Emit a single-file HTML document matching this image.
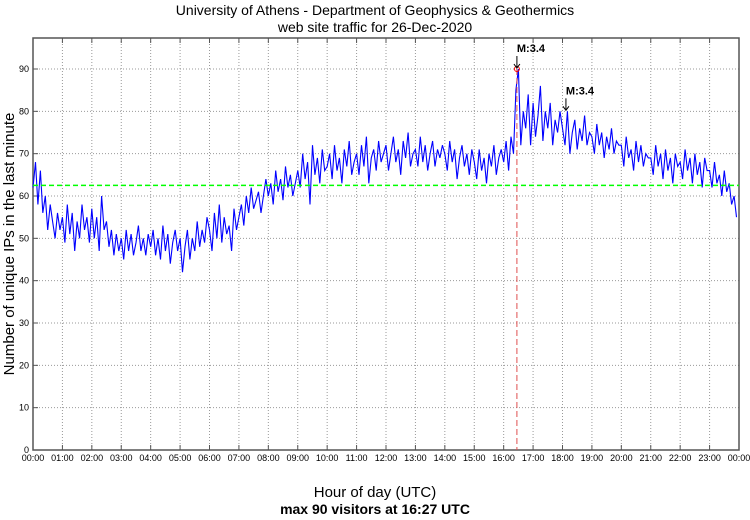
<!DOCTYPE html>
<html><head><meta charset="utf-8"><style>
body{margin:0;background:#fff;}
svg text{font-family:"Liberation Sans",sans-serif;}
</style></head><body>
<svg id="c" width="750" height="515">
<text x="375" y="15" text-anchor="middle" font-size="14">University of Athens - Department of Geophysics &amp; Geothermics</text>
<text x="375" y="32" text-anchor="middle" font-size="14">web site traffic for 26-Dec-2020</text>
<text x="375" y="497" text-anchor="middle" font-size="15">Hour of day (UTC)</text>
<text x="375" y="514" text-anchor="middle" font-size="14" font-weight="bold">max 90 visitors at 16:27 UTC</text>
<text transform="translate(14,244) rotate(-90)" text-anchor="middle" font-size="15">Number of unique IPs in the last minute</text>
<g id="g"></g>
</svg>
<script>
const yTicks=[0,10,20,30,40,50,60,70,80,90];
const xTickLabels=["00:00","01:00","02:00","03:00","04:00","05:00","06:00","07:00","08:00","09:00","10:00","11:00","12:00","13:00","14:00","15:00","16:00","17:00","18:00","19:00","20:00","21:00","22:00","23:00","00:00"];
const visitors=[
62,68,58,66,56,60,52,58,54,50,56,52,
55,49,58,51,56,47,54,50,58,52,55,49,
57,50,55,47,60,52,54,48,52,46,51,47,
50,45,52,47,51,46,49,53,47,50,46,51,
48,52,46,50,45,53,47,51,44,49,52,47,
50,42,48,52,45,50,47,54,48,52,49,55,
52,47,56,50,58,49,55,51,53,47,57,52,
55,58,53,60,56,62,57,59,61,56,60,64,
60,63,58,66,61,64,59,67,62,65,60,63,
66,62,70,64,68,58,72,65,69,63,71,66,
67,70,64,72,66,69,63,71,67,73,65,68,
70,65,72,67,74,63,69,71,66,73,68,70,
72,66,70,74,68,71,65,73,69,75,67,70,
71,67,74,68,72,66,70,73,67,71,69,72,
70,66,73,68,71,64,69,72,67,70,65,71,
68,64,71,66,69,63,70,67,72,65,69,71,
68,73,66,74,70,85,90,72,80,76,84,72,
82,74,79,86,73,80,76,82,72,78,75,80,
76,72,80,70,75,78,71,76,73,79,72,75,
74,70,77,72,75,69,74,71,76,70,73,72,
72,67,74,69,71,66,73,68,72,67,70,69,
69,65,72,67,70,64,71,66,69,63,70,67,
68,64,71,66,69,63,70,65,68,62,69,66,
66,62,68,63,65,60,66,61,63,58,60,55];
const stepMinutes=5;
const meanValue=62.5;
const maxTime=16*60+27, maxValue=90;
const quakes=[{t:16*60+27,v:90,label:"M:3.4"},{t:18*60+7,v:80,label:"M:3.4"}];
const L=33,R=739,T=38,B=450;
const xs=m=>L+(R-L)*m/1440;
const ys=v=>B-(B-69)*v/90;
const g=document.getElementById('g');
const NS="http://www.w3.org/2000/svg";
function mk(t,a){const e=document.createElementNS(NS,t);for(const k in a)e.setAttribute(k,a[k]);g.appendChild(e);return e;}
yTicks.forEach(v=>{
 if(v>0){const l=mk('line',{x1:L,x2:R,y1:ys(v),y2:ys(v),stroke:'#999','stroke-dasharray':'1,2'});
 
 }
 const t=mk('text',{x:L-4,y:ys(v)+3,'text-anchor':'end','font-size':9});t.textContent=v;
 
 
 mk('line',{x1:L,x2:L+5,y1:ys(v),y2:ys(v),stroke:'#555'});
});
xTickLabels.forEach((s,i)=>{
 const x=xs(i*60);
 if(i>0&&i<24){const l=mk('line',{x1:x,x2:x,y1:T,y2:B,stroke:'#999','stroke-dasharray':'1,2'});
 
 
 mk('line',{x1:x,x2:x,y1:B,y2:B-5,stroke:'#555'});mk('line',{x1:x,x2:x,y1:T,y2:T+5,stroke:'#555'});}
 const t=mk('text',{x:x,y:B+11,'text-anchor':'middle','font-size':9});t.textContent=s;
 
 
});
const fr=mk('rect',{x:L,y:T,width:R-L,height:B-T,fill:'none',stroke:'#555','stroke-width':1.5});


const pts=visitors.map((v,i)=>xs(i*stepMinutes).toFixed(1)+','+ys(v).toFixed(1)).join(' ');
const pl=mk('polyline',{points:pts,fill:'none',stroke:'#0000ff','stroke-width':1.1});


const ml=mk('path',{d:`M${L},${ys(meanValue)} H${R}`,fill:'none',stroke:'#00ff00','stroke-width':1.5,'stroke-dasharray':'5,3'});


const vl=mk('line',{x1:xs(maxTime),x2:xs(maxTime),y1:ys(maxValue),y2:B,stroke:'#e05050','stroke-dasharray':'6,3'});


const mc=mk('circle',{cx:xs(maxTime),cy:ys(maxValue),r:2.5,fill:'none',stroke:'red'});


quakes.forEach(q=>{
 const x=xs(q.t),y=ys(q.v);
 const t=mk('text',{x:x,y:y-17,'font-size':11,'font-weight':'bold'});t.textContent=q.label;
 
 
 mk('line',{x1:x,x2:x,y1:y-13,y2:y-2,stroke:'#000'});
 mk('path',{d:`M${x-3},${y-5} L${x},${y-1} L${x+3},${y-5}`,fill:'none',stroke:'#000'});
});
</script>
</body></html>
